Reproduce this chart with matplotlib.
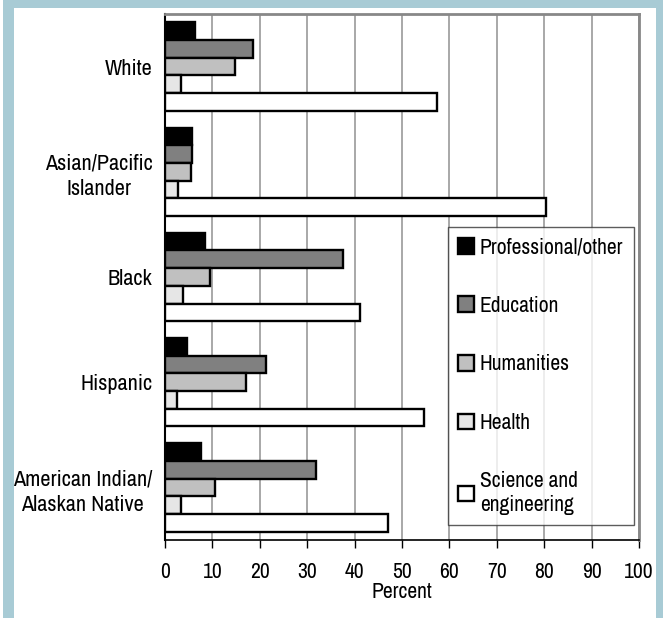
import matplotlib.pyplot as plt
from matplotlib import font_manager
from matplotlib.patches import Rectangle

# narrow grotesque face, first one that is available
installed = set(f.name for f in font_manager.fontManager.ttflist)
candidates = ["Arial Narrow", "Liberation Sans Narrow", "Archivo Narrow",
              "Roboto Condensed", "PT Sans Narrow", "Liberation Sans"]
family = [c for c in candidates if c in installed][0]
plt.rcParams['font.family'] = [family, 'DejaVu Sans']

groups = ["White", "Asian/Pacific\nIslander", "Black", "Hispanic",
          "American Indian/\nAlaskan Native"]
fields = ["Professional/other", "Education", "Humanities", "Health",
          "Science and\nengineering"]
colors = ["#000000", "#808080", "#c0c0c0", "#e6e6e6", "#ffffff"]

professional = [6.3, 5.8, 8.4, 4.6, 7.5]
education = [18.6, 5.6, 37.6, 21.4, 31.9]
humanities = [14.8, 5.5, 9.5, 17.0, 10.5]
health = [3.4, 2.7, 3.7, 2.5, 3.4]
science = [57.3, 80.4, 41.1, 54.6, 47.1]
series = [professional, education, humanities, health, science]

W, H = 663, 618
fig = plt.figure(figsize=(W / 100, H / 100), dpi=100)

# light blue frame around a white panel
fig.patches.append(Rectangle((3 / W, -0.01), 1, 1.02, transform=fig.transFigure,
                             facecolor="#a8cbd5", edgecolor="none", zorder=-10))
fig.patches.append(Rectangle((14 / W, -0.01), (656 - 14) / W, 1.01 - 8 / H,
                             transform=fig.transFigure, facecolor="white",
                             edgecolor="none", zorder=-9))

ax = fig.add_axes([165 / W, 1 - 540 / H, (639 - 165) / W, (540 - 14) / H])

bh = 0.168
for i, (vals, lab, col) in enumerate(zip(series, fields, colors)):
    ypos = [g + (i - 2) * bh for g in range(len(groups))]
    ax.barh(ypos, vals, height=bh, color=col, edgecolor="black",
            linewidth=1.7, label=lab, zorder=3)

ax.set_xlim(0, 100)
ax.set_ylim(len(groups) - 0.5, -0.5)
ax.set_xticks(range(0, 101, 10))
ax.set_yticks(range(len(groups)))
ax.set_yticklabels(groups, multialignment="center", fontsize=16, linespacing=1.35)
ax.tick_params(axis="y", length=0, pad=9)
ax.tick_params(axis="x", direction="out", length=6, width=1, labelsize=15.5,
               pad=10, color="black")
ax.xaxis.grid(True, color="#999999", linewidth=1.2, zorder=0)
ax.set_axisbelow(True)

ax.spines["left"].set_color("black")
ax.spines["left"].set_linewidth(1.5)
ax.spines["bottom"].set_color("black")
ax.spines["bottom"].set_linewidth(1.2)
ax.spines["top"].set_color("#888888")
ax.spines["top"].set_linewidth(2)
ax.spines["right"].set_color("#888888")
ax.spines["right"].set_linewidth(2)

ax.set_xlabel("Percent", fontsize=15.5, labelpad=0)

leg = ax.legend(loc="upper left", bbox_to_anchor=((448 - 165) / (639 - 165), 1 - (227 - 14) / (540 - 14)),
                fontsize=15.5, frameon=True, fancybox=False, edgecolor="#333333",
                handlelength=0.75, handleheight=0.75, handletextpad=0.25,
                labelspacing=1.79, borderpad=0.48, borderaxespad=0)
leg.get_frame().set_linewidth(1)
leg.set_zorder(5)
for h in leg.legend_handles:
    h.set_linewidth(1.7)

fig.savefig("out.png", dpi=100)
